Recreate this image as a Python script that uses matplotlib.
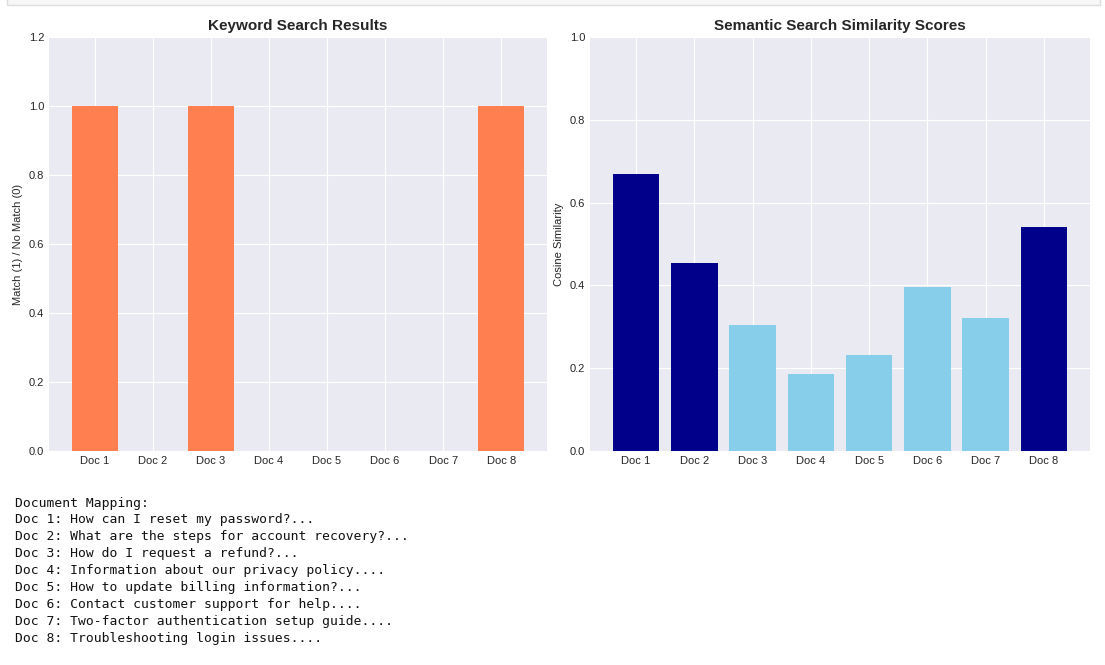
import matplotlib
matplotlib.use("Agg")
import matplotlib.pyplot as plt
from matplotlib.patches import Rectangle

plt.style.use("seaborn-v0_8-darkgrid")
plt.rcParams['font.family'] = ['Liberation Sans', 'DejaVu Sans']

docs = ["Doc 1", "Doc 2", "Doc 3", "Doc 4", "Doc 5", "Doc 6", "Doc 7", "Doc 8"]
keyword_match = [1, 0, 1, 0, 0, 0, 0, 1]
semantic_scores = [0.669, 0.454, 0.304, 0.186, 0.232, 0.396, 0.321, 0.541]
top_docs = ["Doc 1", "Doc 2", "Doc 8"]
doc_texts = [
    "How can I reset my password?",
    "What are the steps for account recovery?",
    "How do I request a refund?",
    "Information about our privacy policy.",
    "How to update billing information?",
    "Contact customer support for help.",
    "Two-factor authentication setup guide.",
    "Troubleshooting login issues.",
]

fig = plt.figure(figsize=(11.05, 6.65), dpi=100)
fig.patch.set_facecolor("white")

# notebook cell border at the very top
fig.patches.append(Rectangle((7 / 1105, 1 - 5 / 665), 1093 / 1105, 10 / 665,
                             transform=fig.transFigure, facecolor="#f7f7f7",
                             edgecolor="#dddddd", linewidth=1))

ax1 = fig.add_axes([49 / 1105, 214 / 665, 498 / 1105, 414 / 665])
ax2 = fig.add_axes([590 / 1105, 214 / 665, 500 / 1105, 414 / 665])

ax1.bar(docs, keyword_match, color="coral")
ax1.set_ylim(0, 1.2)
ax1.set_title("Keyword Search Results", fontsize=11, fontweight="bold", pad=5)
ax1.set_ylabel("Match (1) / No Match (0)", fontsize=8)

colors = ["darkblue" if d in top_docs else "skyblue" for d in docs]
ax2.bar(docs, semantic_scores, color=colors)
ax2.set_ylim(0, 1.0)
ax2.set_title("Semantic Search Similarity Scores", fontsize=11, fontweight="bold", pad=5)
ax2.set_ylabel("Cosine Similarity", fontsize=8)

for ax in (ax1, ax2):
    ax.tick_params(labelsize=8, colors="#262626")

# printed mapping below the plots
lines = ["Document Mapping:"] + [f"{d}: {t[:50]}..." for d, t in zip(docs, doc_texts)]
for i, line in enumerate(lines):
    fig.text(15 / 1105, 1 - (503 + i * 16.9) / 665, line, family="DejaVu Sans Mono",
             fontsize=9.35, va="center", ha="left", color="#111111")

fig.savefig("out.png", dpi=100)
